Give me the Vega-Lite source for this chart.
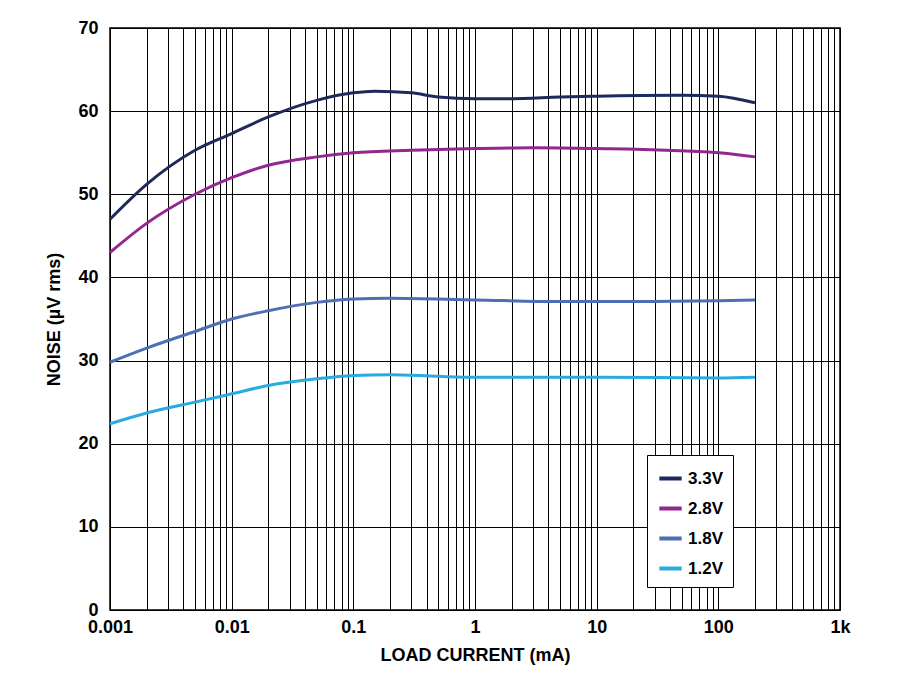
{
  "$schema": "https://vega.github.io/schema/vega-lite/v6.json",
  "width": 730,
  "height": 582,
  "autosize": {"type": "none"},
  "padding": {"left": 110, "top": 28, "right": 60, "bottom": 89},
  "background": "white",
  "config": {
    "font": "Liberation Sans",
    "view": {"stroke": "black", "strokeWidth": 1.5},
    "axis": {"labelFont": "Liberation Sans", "labelFontWeight": "bold", "labelFontSize": 18, "labelColor": "black", "titleFont": "Liberation Sans", "titleFontWeight": "bold", "titleFontSize": 18, "titleColor": "black", "gridColor": "black", "gridOpacity": 1, "gridWidth": 1, "domain": false, "ticks": false}
  },
  "data": {
    "values": [
      {"i": 0.001, "v": 47, "s": "3.3V"}, {"i": 0.002, "v": 51.2, "s": "3.3V"}, {"i": 0.005, "v": 55.3, "s": "3.3V"}, {"i": 0.01, "v": 57.3, "s": "3.3V"}, {"i": 0.02, "v": 59.3, "s": "3.3V"}, {"i": 0.05, "v": 61.3, "s": "3.3V"}, {"i": 0.1, "v": 62.2, "s": "3.3V"}, {"i": 0.15, "v": 62.4, "s": "3.3V"}, {"i": 0.3, "v": 62.2, "s": "3.3V"}, {"i": 0.5, "v": 61.7, "s": "3.3V"}, {"i": 1, "v": 61.5, "s": "3.3V"}, {"i": 2, "v": 61.5, "s": "3.3V"}, {"i": 5, "v": 61.7, "s": "3.3V"}, {"i": 10, "v": 61.8, "s": "3.3V"}, {"i": 50, "v": 61.9, "s": "3.3V"}, {"i": 100, "v": 61.8, "s": "3.3V"}, {"i": 200, "v": 61.0, "s": "3.3V"},
      {"i": 0.001, "v": 43, "s": "2.8V"}, {"i": 0.002, "v": 46.5, "s": "2.8V"}, {"i": 0.005, "v": 50, "s": "2.8V"}, {"i": 0.01, "v": 52, "s": "2.8V"}, {"i": 0.02, "v": 53.5, "s": "2.8V"}, {"i": 0.05, "v": 54.5, "s": "2.8V"}, {"i": 0.1, "v": 55, "s": "2.8V"}, {"i": 0.3, "v": 55.3, "s": "2.8V"}, {"i": 1, "v": 55.5, "s": "2.8V"}, {"i": 3, "v": 55.6, "s": "2.8V"}, {"i": 10, "v": 55.5, "s": "2.8V"}, {"i": 100, "v": 55, "s": "2.8V"}, {"i": 200, "v": 54.5, "s": "2.8V"},
      {"i": 0.001, "v": 29.8, "s": "1.8V"}, {"i": 0.002, "v": 31.5, "s": "1.8V"}, {"i": 0.005, "v": 33.5, "s": "1.8V"}, {"i": 0.01, "v": 35, "s": "1.8V"}, {"i": 0.02, "v": 36, "s": "1.8V"}, {"i": 0.05, "v": 37, "s": "1.8V"}, {"i": 0.1, "v": 37.4, "s": "1.8V"}, {"i": 0.2, "v": 37.5, "s": "1.8V"}, {"i": 1, "v": 37.3, "s": "1.8V"}, {"i": 5, "v": 37.1, "s": "1.8V"}, {"i": 20, "v": 37.1, "s": "1.8V"}, {"i": 100, "v": 37.2, "s": "1.8V"}, {"i": 200, "v": 37.3, "s": "1.8V"},
      {"i": 0.001, "v": 22.4, "s": "1.2V"}, {"i": 0.002, "v": 23.7, "s": "1.2V"}, {"i": 0.005, "v": 25, "s": "1.2V"}, {"i": 0.01, "v": 26, "s": "1.2V"}, {"i": 0.02, "v": 27, "s": "1.2V"}, {"i": 0.05, "v": 27.8, "s": "1.2V"}, {"i": 0.1, "v": 28.2, "s": "1.2V"}, {"i": 0.2, "v": 28.3, "s": "1.2V"}, {"i": 0.5, "v": 28.1, "s": "1.2V"}, {"i": 1, "v": 28, "s": "1.2V"}, {"i": 10, "v": 28, "s": "1.2V"}, {"i": 100, "v": 27.9, "s": "1.2V"}, {"i": 200, "v": 28, "s": "1.2V"}
    ]
  },
  "mark": {"type": "line", "interpolate": "monotone", "strokeWidth": 3},
  "encoding": {
    "x": {
      "field": "i", "type": "quantitative",
      "scale": {"type": "log", "domain": [0.001, 1000]},
      "axis": {
        "values": [0.001,0.002,0.003,0.004,0.005,0.006,0.007,0.008,0.009,0.01,0.02,0.03,0.04,0.05,0.06,0.07,0.08,0.09,0.1,0.2,0.3,0.4,0.5,0.6,0.7,0.8,0.9,1,2,3,4,5,6,7,8,9,10,20,30,40,50,60,70,80,90,100,200,300,400,500,600,700,800,900,1000],
        "labelExpr": "datum.value == 1000 ? '1k' : (abs(log(datum.value)/LN10 - round(log(datum.value)/LN10)) < 0.001 ? format(datum.value, '~g') : '')",
        "labelFlush": false,
        "labelOverlap": false,
        "title": "LOAD CURRENT (mA)",
        "titlePadding": 10,
        "labelPadding": 8
      }
    },
    "y": {
      "field": "v", "type": "quantitative",
      "scale": {"domain": [0, 70]},
      "axis": {"values": [0,10,20,30,40,50,60,70], "title": "NOISE (µV rms)", "labelPadding": 12, "titlePadding": 14}
    },
    "color": {
      "field": "s", "type": "nominal",
      "scale": {"domain": ["3.3V", "2.8V", "1.8V", "1.2V"], "range": ["#1f2a5c", "#93278f", "#4f6fb5", "#29abe2"]},
      "legend": {
        "title": null, "orient": "none", "legendX": 537, "legendY": 427,
        "symbolType": "stroke", "symbolStrokeWidth": 4, "symbolSize": 500,
        "labelFontSize": 17, "labelFont": "Liberation Sans", "labelFontWeight": "bold", "labelColor": "black",
        "fillColor": "white", "strokeColor": "black", "padding": 10, "rowPadding": 8
      }
    }
  }
}
